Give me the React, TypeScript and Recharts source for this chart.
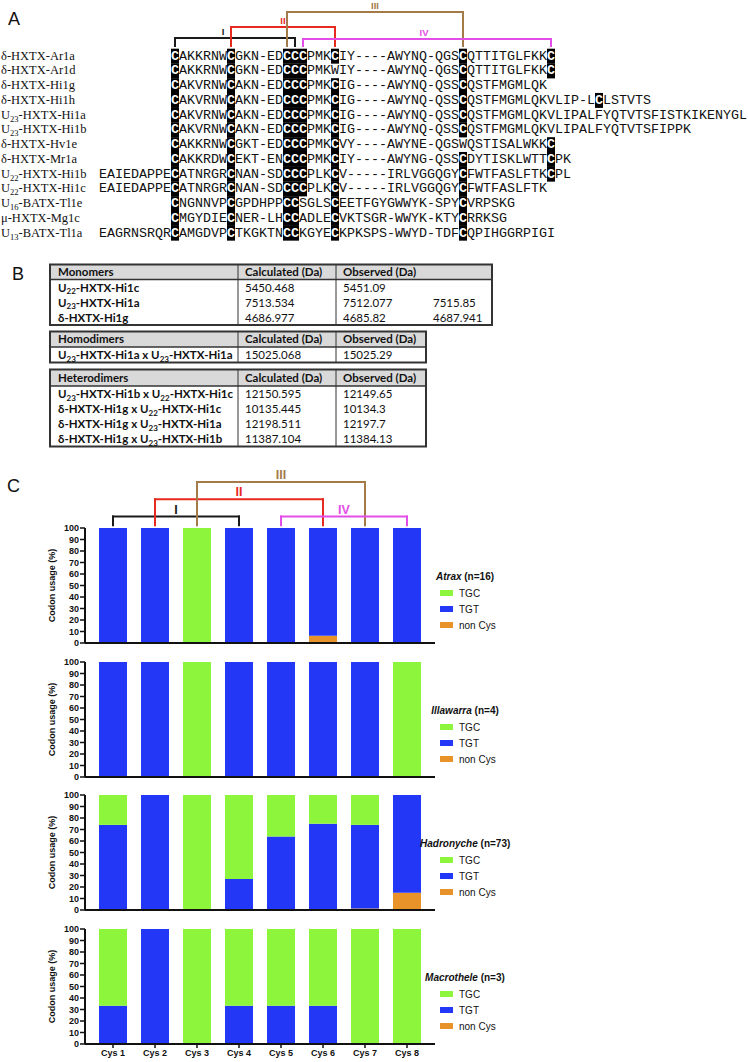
import React from 'react';
import { BarChart, Bar, XAxis, YAxis, ReferenceLine, Legend } from 'recharts';

// ---------------- Panel A: alignment ----------------
const toxinNames = [
  'δ-HXTX-Ar1a', 'δ-HXTX-Ar1d', 'δ-HXTX-Hi1g', 'δ-HXTX-Hi1h', 'U_23-HXTX-Hi1a', 'U_23-HXTX-Hi1b',
  'δ-HXTX-Hv1e', 'δ-HXTX-Mr1a', 'U_22-HXTX-Hi1b', 'U_22-HXTX-Hi1c', 'U_16-BATX-Tl1e', 'μ-HXTX-Mg1c', 'U_13-BATX-Tl1a',
];
const toxinSequences = [
  'CAKKRNWCGKN-EDCCCPMKCIY----AWYNQ-QGSCQTTITGLFKKC',
  'CAKKRNWCGKN-EDCCCPMKWIY----AWYNQ-QGSCQTTITGLFKKC',
  'CAKVRNWCAKN-EDCCCPMKCIG----AWYNQ-QSSCQSTFMGMLQK',
  'CAKVRNWCAKN-EDCCCPMKCIG----AWYNQ-QSSCQSTFMGMLQKVLIP-LCLSTVTS',
  'CAKVRNWCAKN-EDCCCPMKCIG----AWYNQ-QSSCQSTFMGMLQKVLIPALFYQTVTSFISTKIKENYGL',
  'CAKVRNWCAKN-EDCCCPMKCIG----AWYNQ-QSSCQSTFMGMLQKVLIPALFYQTVTSFIPPK',
  'CAKKRNWCGKT-EDCCCPMKCVY----AWYNE-QGSWQSTISALWKKC',
  'CAKKRDWCEKT-ENCCCPMKCIY----AWYNG-QSSCDYTISKLWTTCPK',
  'EAIEDAPPECATNRGRCNAN-SDCCCPLKCV-----IRLVGGQGYCFWTFASLFTKCPL',
  'EAIEDAPPECATNRGRCNAN-SDCCCPLKCV-----IRLVGGQGYCFWTFASLFTK',
  'CNGNNVPCGPDHPPCCSGLSCEETFGYGWWYK-SPYCVRPSKG',
  'CMGYDIECNER-LHCCADLECVKTSGR-WWYK-KTYCRRKSG',
  'EAGRNSRQRCAMGDVPCTKGKTNCCKGYECKPKSPS-WWYD-TDFCQPIHGGRPIGI',
];
const alignOffsets = [0, 0, 0, 0, 0, 0, 0, 0, 9, 9, 0, 0, 9];
const cysColumns = [0, 7, 14, 15, 16, 20, 36, 47];

// ---------------- Disulfide bridges ----------------
const bridgeLabels = ['I', 'II', 'III', 'IV'];
const bridgeFromCys = [1, 2, 3, 5];
const bridgeToCys = [4, 6, 7, 8];
const bridgeColors = ['#1a1a1a', '#e62a1f', '#a57a49', '#e34ee8'];
const bridgeTopsA = [38, 27, 12, 39];
const bridgeLabelShiftA = [-12, 0, 0, -3];
const bridgeTopsPct = [110, 125, 140, 110];
const bridgeFootPct = 102.5;

// ---------------- Panel B: masses ----------------
const monomerNames = ['U_22-HXTX-Hi1c', 'U_23-HXTX-Hi1a', 'δ-HXTX-Hi1g'];
const monomerCalc = ['5450.468', '7513.534', '4686.977'];
const monomerObs = ['5451.09', '7512.077', '4685.82'];
const monomerObs2 = ['', '7515.85', '4687.941'];
const homodimerNames = ['U_23-HXTX-Hi1a x U_23-HXTX-Hi1a'];
const homodimerCalc = ['15025.068'];
const homodimerObs = ['15025.29'];
const heterodimerNames = [
  'U_23-HXTX-Hi1b x U_22-HXTX-Hi1c', 'δ-HXTX-Hi1g x U_22-HXTX-Hi1c',
  'δ-HXTX-Hi1g x U_23-HXTX-Hi1a', 'δ-HXTX-Hi1g x U_23-HXTX-Hi1b',
];
const heterodimerCalc = ['12150.595', '10135.445', '12198.511', '11387.104'];
const heterodimerObs = ['12149.65', '10134.3', '12197.7', '11384.13'];
const tableHeaders = ['Monomers', 'Homodimers', 'Heterodimers'];
const calcHeader = 'Calculated (Da)';
const obsHeader = 'Observed (Da)';

// ---------------- Panel C: codon usage ----------------
const categories = ['Cys 1', 'Cys 2', 'Cys 3', 'Cys 4', 'Cys 5', 'Cys 6', 'Cys 7', 'Cys 8'];
const codonNames = ['TGC', 'TGT', 'non Cys'];
const codonColors = ['#8cf53c', '#2337f6', '#e8922a'];
const yTicks = [0, 10, 20, 30, 40, 50, 60, 70, 80, 90, 100];

const atraxTGC = [0, 0, 100, 0, 0, 0, 0, 0];
const atraxTGT = [100, 100, 0, 100, 100, 93.75, 100, 100];
const atraxNonCys = [0, 0, 0, 0, 0, 6.25, 0, 0];

const illawarraTGC = [0, 0, 100, 0, 0, 0, 0, 100];
const illawarraTGT = [100, 100, 0, 100, 100, 100, 100, 0];
const illawarraNonCys = [0, 0, 0, 0, 0, 0, 0, 0];

const hadronycheTGC = [26, 0, 100, 73, 36, 25, 26, 0];
const hadronycheTGT = [74, 100, 0, 27, 64, 75, 72.6, 85];
const hadronycheNonCys = [0, 0, 0, 0, 0, 0, 1.4, 15];

const macrotheleTGC = [66.7, 0, 100, 66.7, 66.7, 66.7, 100, 100];
const macrotheleTGT = [33.3, 100, 0, 33.3, 33.3, 33.3, 0, 0];
const macrotheleNonCys = [0, 0, 0, 0, 0, 0, 0, 0];

const genusNames = ['Atrax', 'Illawarra', 'Hadronyche', 'Macrothele'];
const genusCounts = [16, 4, 73, 3];
const genusTGC = [atraxTGC, illawarraTGC, hadronycheTGC, macrotheleTGC];
const genusTGT = [atraxTGT, illawarraTGT, hadronycheTGT, macrotheleTGT];
const genusNonCys = [atraxNonCys, illawarraNonCys, hadronycheNonCys, macrotheleNonCys];

// ---------------- layout ----------------
const SANS = "'Liberation Sans', Arial, sans-serif";
const SERIF = "'Liberation Serif', 'Times New Roman', serif";
const MONO = "'Courier New', 'Liberation Mono', monospace";
const TABLE_FONT = "Lato, 'Liberation Sans', sans-serif";
const SEQ_X0 = 171;
const CH = 8;
const ROW0 = 55;
const ROWH = 14.75;
const PLOT_TOPS = [528, 662, 795, 929];
const PLOT_H = 115;

function SubText({ text, subSize, dy }: { text: string; subSize: number; dy: number }) {
  const parts = text.split(/_(\d+)/);
  return (
    <>
      {parts.map((p, i) =>
        i % 2 === 1 ? (
          <tspan key={i} fontSize={subSize} dy={dy}>{p}</tspan>
        ) : (
          <tspan key={i} dy={i === 0 ? 0 : -dy}>{p}</tspan>
        )
      )}
    </>
  );
}

function colCenter(col: number) {
  return SEQ_X0 + col * CH + CH / 2;
}

function PanelA() {
  return (
    <g>
      <text x={8} y={25} fontFamily={SANS} fontSize={18} fill="#111">A</text>
      {bridgeLabels.map((lab, b) => {
        const x1 = colCenter(cysColumns[bridgeFromCys[b] - 1]);
        const x2 = colCenter(cysColumns[bridgeToCys[b] - 1]);
        const top = bridgeTopsA[b];
        return (
          <g key={lab}>
            <polyline points={`${x1},47 ${x1},${top} ${x2},${top} ${x2},47`} fill="none" stroke={bridgeColors[b]} strokeWidth={2} />
            <text x={(x1 + x2) / 2 + bridgeLabelShiftA[b]} y={top - 3} textAnchor="middle" fontFamily={SANS} fontWeight="bold" fontSize={9.5} fill={bridgeColors[b]}>{lab}</text>
          </g>
        );
      })}
      {toxinSequences.map((seq, r) => {
        const cy = ROW0 + r * ROWH;
        const off = alignOffsets[r];
        const cells: any[] = [];
        seq.split('').forEach((ch, i) => {
          if (ch === 'C') {
            cells.push(
              <rect key={i} x={SEQ_X0 + (i - off) * CH} y={cy - 6.3} width={CH} height={ROWH + 0.2} fill="#000" />
            );
          }
        });
        return <g key={'h' + r}>{cells}</g>;
      })}
      {toxinSequences.map((seq, r) => {
        const cy = ROW0 + r * ROWH;
        const off = alignOffsets[r];
        const runs: { s: string; c: boolean }[] = [];
        seq.split('').forEach((ch) => {
          const isC = ch === 'C';
          if (runs.length && runs[runs.length - 1].c === isC) runs[runs.length - 1].s += ch;
          else runs.push({ s: ch, c: isC });
        });
        return (
          <g key={'r' + r}>
            <text x={1} y={cy + 4.5} fontFamily={SERIF} fontSize={12.5} fill="#111">
              <SubText text={toxinNames[r]} subSize={8.5} dy={3} />
            </text>
            <text x={SEQ_X0 - off * CH} y={cy + 4.5} fontFamily={MONO} fontSize={13.333} xmlSpace="preserve" fill="#111">
              {runs.map((run, k) => (
                <tspan key={k} fill={run.c ? '#fff' : '#111'} fontWeight={run.c ? 'bold' : 'normal'}>{run.s}</tspan>
              ))}
            </text>
          </g>
        );
      })}
    </g>
  );
}

function MassTable({ top, headerBottom, right, title, names, calc, obs, obs2 }: any) {
  const left = 50;
  const d1 = 238;
  const d2 = 336;
  const bottom = headerBottom + names.length * 15 + 0.5;
  const hy = (top + headerBottom) / 2 + 4;
  return (
    <g fontFamily={TABLE_FONT} fontSize={11.5} fill="#111">
      <rect x={left} y={top} width={right - left} height={headerBottom - top} fill="#d9d9d9" />
      <line x1={left} y1={headerBottom} x2={right} y2={headerBottom} stroke="#333" strokeWidth={1.5} />
      <line x1={d1} y1={top} x2={d1} y2={bottom} stroke="#333" strokeWidth={1} />
      <line x1={d2} y1={top} x2={d2} y2={bottom} stroke="#333" strokeWidth={1} />
      <rect x={left} y={top} width={right - left} height={bottom - top} fill="none" stroke="#333" strokeWidth={2} />
      <text x={58} y={hy} fontWeight="bold">{title}</text>
      <text x={245} y={hy} fontWeight="bold">{calcHeader}</text>
      <text x={343} y={hy} fontWeight="bold">{obsHeader}</text>
      {names.map((n: string, i: number) => {
        const y = headerBottom + 8 + i * 15 + 4;
        return (
          <g key={i}>
            <text x={58} y={y} fontWeight="bold"><SubText text={n} subSize={8} dy={2.5} /></text>
            <text x={245} y={y}>{calc[i]}</text>
            <text x={343} y={y}>{obs[i]}</text>
            {obs2 && obs2[i] ? <text x={433} y={y}>{obs2[i]}</text> : null}
          </g>
        );
      })}
    </g>
  );
}

function PanelB() {
  return (
    <g>
      <text x={12} y={280} fontFamily={SANS} fontSize={18} fill="#111">B</text>
      <MassTable top={264.5} headerBottom={279.5} right={492} title={tableHeaders[0]} names={monomerNames} calc={monomerCalc} obs={monomerObs} obs2={monomerObs2} />
      <MassTable top={331.5} headerBottom={347} right={426} title={tableHeaders[1]} names={homodimerNames} calc={homodimerCalc} obs={homodimerObs} />
      <MassTable top={369.5} headerBottom={386} right={426} title={tableHeaders[2]} names={heterodimerNames} calc={heterodimerCalc} obs={heterodimerObs} />
    </g>
  );
}

function YLabel(props: any) {
  const vb = props.viewBox || {};
  const cx = 55;
  const cy = vb.y + vb.height / 2;
  return (
    <text x={cx} y={cy} transform={`rotate(-90 ${cx} ${cy})`} textAnchor="middle" fontFamily={SANS} fontWeight="bold" fontSize={9} fill="#111">
      Codon usage (%)
    </text>
  );
}

function GenusChart({ idx }: { idx: number }) {
  const data = categories.map((c, i) => ({
    cat: c,
    tgc: genusTGC[idx][i],
    tgt: genusTGT[idx][i],
    non: genusNonCys[idx][i],
  }));
  const isFirst = idx === 0;
  const isLast = idx === 3;
  const mt = isFirst ? 68 : 20;
  const mb = isLast ? 2 : 4;
  const xh = isLast ? 20 : 1;
  const h = mt + PLOT_H + xh + mb;
  const top = PLOT_TOPS[idx] - mt;
  const legendTop = mt + 49 - 8;

  const renderLegend = () => (
    <div style={{ fontFamily: SANS, fontSize: 10, color: '#111', width: 100 }}>
      <div style={{ width: 90, textAlign: 'center', fontWeight: 'bold', height: 16, lineHeight: '16px', whiteSpace: 'nowrap' }}>
        <i>{genusNames[idx]}</i> (n={genusCounts[idx]})
      </div>
      {codonNames.map((nm, k) => (
        <div key={nm} style={{ height: 16, display: 'flex', alignItems: 'center', paddingLeft: 20 }}>
          <span style={{ display: 'inline-block', width: 13, height: 6, background: codonColors[k], marginRight: 6 }} />
          <span>{nm}</span>
        </div>
      ))}
    </div>
  );

  const brackets: any[] = [];
  if (isFirst) {
    bridgeLabels.forEach((lab, b) => {
      const from = categories[bridgeFromCys[b] - 1];
      const to = categories[bridgeToCys[b] - 1];
      const t = bridgeTopsPct[b];
      const common = { stroke: bridgeColors[b], strokeWidth: 2, ifOverflow: 'visible' as const, strokeLinecap: 'square' as const };
      brackets.push(
        <ReferenceLine key={lab + 'a'} segment={[{ x: from, y: bridgeFootPct }, { x: from, y: t }]} {...common} />,
        <ReferenceLine key={lab + 'b'} segment={[{ x: from, y: t }, { x: to, y: t }]} {...common}
          label={{ value: lab, position: 'top', offset: 3, fill: bridgeColors[b], fontSize: 12.5, fontWeight: 'bold', fontFamily: SANS }} />,
        <ReferenceLine key={lab + 'c'} segment={[{ x: to, y: t }, { x: to, y: bridgeFootPct }]} {...common} />
      );
    });
  }

  return (
    <div style={{ position: 'absolute', left: 0, top }}>
      <BarChart width={530} height={h} data={data} margin={{ top: mt, right: 95, left: 0, bottom: mb }} barSize={28}>
        <XAxis
          dataKey="cat"
          padding={{ left: 7, right: 7 }}
          axisLine={{ stroke: '#111', strokeWidth: 2 }}
          tickLine={isLast ? { stroke: '#111', strokeWidth: 1.5 } : false}
          tick={isLast ? { fontSize: 9, fontWeight: 'bold', fill: '#111', fontFamily: SANS } : false}
          tickSize={4}
          tickMargin={2}
          height={xh}
          interval={0}
        />
        <YAxis
          width={85}
          domain={[0, 100]}
          ticks={yTicks}
          interval={0}
          allowDataOverflow
          axisLine={{ stroke: '#111', strokeWidth: 2 }}
          tickLine={{ stroke: '#111', strokeWidth: 1.5 }}
          tick={{ fontSize: 9, fontWeight: 'bold', fill: '#111', fontFamily: SANS }}
          tickSize={5}
          tickMargin={1}
          label={<YLabel />}
        />
        <Bar dataKey="non" stackId="s" fill={codonColors[2]} isAnimationActive={false} />
        <Bar dataKey="tgt" stackId="s" fill={codonColors[1]} isAnimationActive={false} />
        <Bar dataKey="tgc" stackId="s" fill={codonColors[0]} isAnimationActive={false} />
        {brackets}
        <Legend
          layout="horizontal"
          align="center"
          verticalAlign="middle"
          content={renderLegend}
          wrapperStyle={{ left: 420, top: legendTop, width: 100, right: 'auto', bottom: 'auto' }}
        />
      </BarChart>
    </div>
  );
}

export default function App() {
  return (
    <div style={{ position: 'absolute', left: 0, top: 0, width: 748, height: 1062, overflow: 'hidden', background: '#fff' }}>
      <svg width={748} height={455} style={{ position: 'absolute', left: 0, top: 0 }}>
        <PanelA />
        <PanelB />
      </svg>
      <div style={{ position: 'absolute', left: 7, top: 476, fontFamily: SANS, fontSize: 18, color: '#111', lineHeight: '20px' }}>C</div>
      {genusNames.map((g, i) => (
        <GenusChart key={g} idx={i} />
      ))}
    </div>
  );
}
